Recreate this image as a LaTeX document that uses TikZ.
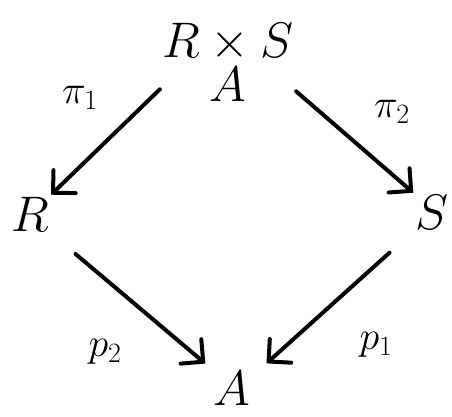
\RequirePackage{fix-cm}
\documentclass[tikz,border=0pt]{standalone}
\usepackage{amsmath}
\usetikzlibrary{arrows.meta}

\begin{document}
\begin{tikzpicture}[x=1pt, y=-1pt, every node/.style={font=\fontsize{50}{50}\selectfont, inner sep=2pt},
    lbl/.style={font=\fontsize{40}{40}\selectfont},
    arr/.style={line width=4pt, line cap=round, -{Straight Barb[length=16pt, width=32pt, line cap=round]}}]
    \useasboundingbox (0,0) rectangle (452,417);
    \node[align=center] (pb) at (228,62) {$R\times S$\\[-6pt]$A$};
    \node (r) at (30,214) {$R$};
    \node (s) at (432,212) {$S$};
    \node (a) at (232,388) {$A$};

    \node[lbl] (pi1) at (80,98) {$\pi_1$};
    \node[lbl] (pi2) at (392,112) {$\pi_2$};
    \node[lbl] (p2) at (105,352) {$p_2$};
    \node[lbl] (p1) at (376,345) {$p_1$};

    \draw[arr] ([yshift=14pt]pb.south west) -- (r.north east);
    \draw[arr] ([yshift=12pt]pb.south east) -- (s.north west);
    \draw[arr, shorten <=32pt, shorten >=8pt] (r.south east) -- (a.north west);
    \draw[arr, shorten <=32pt, shorten >=8pt] (s.south west) -- ([xshift=8pt]a.north east);
\end{tikzpicture}
\end{document}
